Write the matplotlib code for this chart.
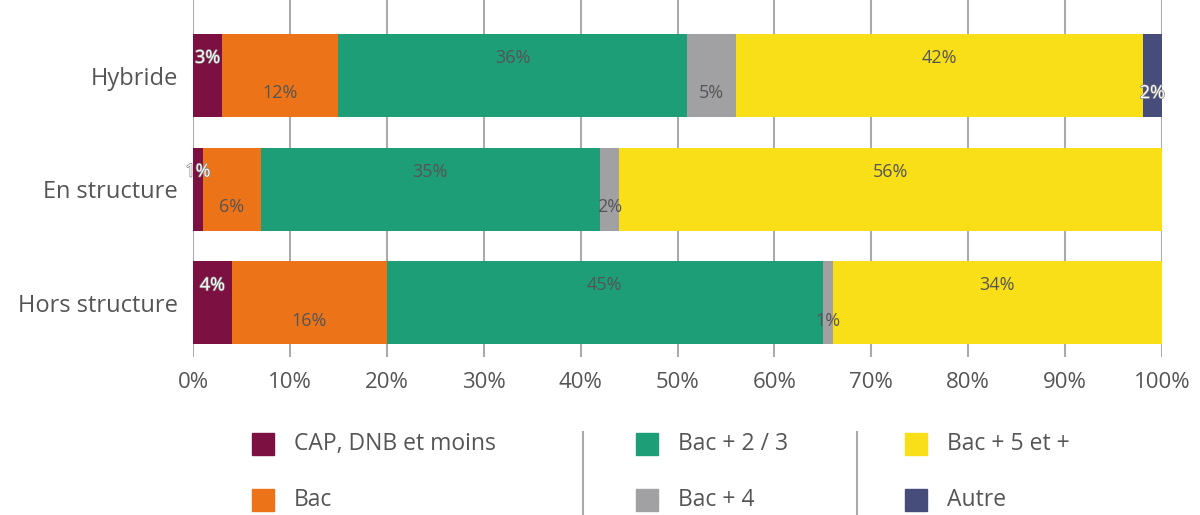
import numpy as np
import matplotlib
matplotlib.use("Agg")
import matplotlib.pyplot as plt
import matplotlib.patheffects as pe
from matplotlib.patches import Rectangle
from matplotlib.lines import Line2D

plt.rcParams['font.family'] = ['Open Sans', 'DejaVu Sans']

# donnees
categories = ["Hybride", "En structure", "Hors structure"]
series = ["CAP, DNB et moins", "Bac", "Bac + 2 / 3", "Bac + 4", "Bac + 5 et +", "Autre"]
cap = [3, 1, 4]
bac = [12, 6, 16]
bac23 = [36, 35, 45]
bac4 = [5, 2, 1]
bac5 = [42, 56, 34]
autre = [2, 0, 0]
values = [cap, bac, bac23, bac4, bac5, autre]
colors = ["#7C1040", "#EC7317", "#1D9E77", "#A1A1A3", "#F9DF17", "#474D7B"]
label_colors = ["white", "#555555", "#555555", "#555555", "#555555", "white"]
xticks = np.arange(0, 101, 10)

fig = plt.figure(figsize=(12, 5.15), dpi=100)
ax = fig.add_axes([193 / 1200, 1 - 357 / 515, 969 / 1200, 357 / 515])

y = np.arange(len(categories))
left = np.zeros(len(categories))
for i, (vals, col) in enumerate(zip(values, colors)):
    vals = np.array(vals, dtype=float)
    ax.barh(y, vals, left=left, height=0.73, color=col, zorder=3)
    off = -0.155 if i % 2 == 0 else 0.155
    for j, v in enumerate(vals):
        if v > 0:
            t = ax.text(left[j] + v / 2, y[j] + off, f"{int(v)}%", ha="center", va="center",
                        fontsize=13, color=label_colors[i], zorder=4)
            if label_colors[i] == "white":
                # contour gris leger pour rester lisible hors de la barre
                t.set_path_effects([pe.withStroke(linewidth=1.0, foreground="#888888")])
    left += vals

ax.set_xlim(0, 100)
ax.set_ylim(2.475, -0.664)
ax.set_yticks(y)
ax.set_yticklabels(categories, fontsize=17, color="#555555")
ax.set_xticks(xticks)
ax.set_xticklabels([f"{t}%" for t in xticks], fontsize=16, color="#555555")
ax.tick_params(length=0)
ax.tick_params(axis="y", pad=11)
ax.tick_params(axis="x", pad=11)
ax.grid(axis="x", color="#ABABAB", linewidth=1.5, zorder=0)
for s in ax.spines.values():
    s.set_visible(False)

# legende
col_x = [252, 636, 905]
row_y = [444, 500]
for k, (name, col) in enumerate(zip(series, colors)):
    cx = col_x[k // 2]
    cy = row_y[k % 2]
    fig.patches.append(Rectangle((cx / 1200, 1 - (cy + 11) / 515), 22 / 1200, 22 / 515,
                                 transform=fig.transFigure, color=col))
    fig.text((cx + 42) / 1200, 1 - cy / 515, name, fontsize=16.5, color="#555555",
             va="center", ha="left")
for sx in [583, 857]:
    fig.add_artist(Line2D([sx / 1200, sx / 1200], [1 - 432 / 515, 0], color="#AAAAAA",
                          linewidth=1.5, transform=fig.transFigure))

plt.savefig("out.png", dpi=100)
